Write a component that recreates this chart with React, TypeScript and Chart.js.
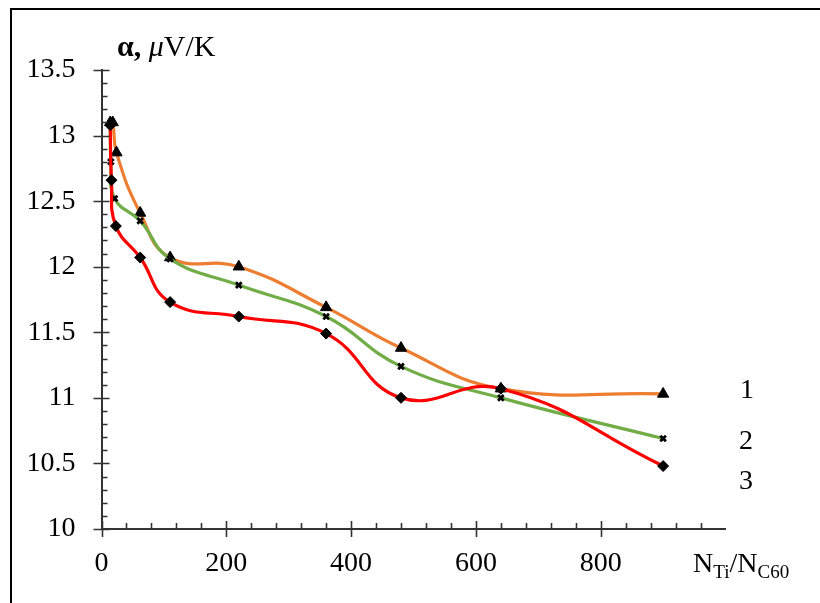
import React, { useEffect, useRef } from "react";
import { Chart, registerables } from "chart.js";

Chart.register(...registerables);

// ---- data ----
const xs1 = [14, 18, 24, 62, 110, 220, 360, 480, 640, 900];
const series1 = [13.1, 13.1, 12.87, 12.41, 12.07, 12.0, 11.69, 11.38, 11.07, 11.03];
const xs2 = [14, 15, 21, 62, 110, 220, 360, 480, 640, 900];
const series2 = [13.08, 12.8, 12.52, 12.35, 12.06, 11.86, 11.62, 11.24, 11.0, 10.69];
const xs3 = [14, 16, 23, 62, 110, 220, 360, 480, 640, 900];
const series3 = [13.08, 12.66, 12.31, 12.07, 11.73, 11.62, 11.49, 11.0, 11.07, 10.48];
const seriesNames = ["1", "2", "3"];
const xHiddenTickLabels = [1000];

const SERIF = "'Liberation Serif', 'Times New Roman', serif";

const toPoints = (xs: number[], ys: number[]) => xs.map((x, i) => ({ x, y: ys[i] }));

const axisTicks = {
  id: "axisTicks",
  afterDatasetsDraw(chart: any) {
    const { ctx, chartArea, scales } = chart;
    const xs = scales.x;
    const ys = scales.y;
    const left = chartArea.left;
    const bottom = chartArea.bottom;
    ctx.save();
    ctx.strokeStyle = "#333";
    ctx.lineWidth = 1.6;
    ctx.beginPath();
    for (let i = 0; i <= 35; i++) {
      const v = 10 + i * 0.1;
      const py = Math.round(ys.getPixelForValue(v)) + 0.5;
      if (i % 5 === 0) {
        ctx.moveTo(left - 8, py);
        ctx.lineTo(left + 8, py);
      } else {
        ctx.moveTo(left, py);
        ctx.lineTo(left + 6, py);
      }
    }
    for (let i = 0; i < 25; i++) {
      const v = i * 40;
      const px = Math.round(xs.getPixelForValue(v)) + 0.5;
      if (i % 5 === 0) {
        ctx.moveTo(px, bottom - 8);
        ctx.lineTo(px, bottom + 8);
      } else {
        ctx.moveTo(px, bottom - 6);
        ctx.lineTo(px, bottom);
      }
    }
    ctx.stroke();
    ctx.restore();
  },
};

export default function App() {
  const ref = useRef<HTMLCanvasElement | null>(null);

  useEffect(() => {
    if (!ref.current) return;
    const chart = new Chart(ref.current, {
      type: "scatter",
      data: {
        datasets: [
          {
            label: seriesNames[2],
            data: toPoints(xs3, series3),
            showLine: true,
            borderColor: "#FF0000",
            borderWidth: 3.2,
            tension: 0.45,
            pointStyle: "rectRot",
            pointRadius: 5.5,
            pointBackgroundColor: "#000",
            pointBorderColor: "#000",
            pointBorderWidth: 1,
            order: 0,
          },
          {
            label: seriesNames[1],
            data: toPoints(xs2, series2),
            showLine: true,
            borderColor: "#70AD47",
            borderWidth: 3.2,
            tension: 0.45,
            pointStyle: "crossRot",
            pointRadius: 4,
            pointBackgroundColor: "#000",
            pointBorderColor: "#000",
            pointBorderWidth: 2.8,
            order: 1,
          },
          {
            label: seriesNames[0],
            data: toPoints(xs1, series1),
            showLine: true,
            borderColor: "#ED7D31",
            borderWidth: 3.2,
            tension: 0.45,
            pointStyle: "triangle",
            pointRadius: 6.5,
            pointBackgroundColor: "#000",
            pointBorderColor: "#000",
            pointBorderWidth: 1,
            order: 2,
          },
        ],
      },
      options: {
        animation: false,
        responsive: false,
        maintainAspectRatio: false,
        layout: { padding: { left: 0, top: 70, right: 94.5, bottom: 0 } },
        plugins: {
          legend: { display: false },
          tooltip: { enabled: false },
        },
        scales: {
          x: {
            type: "linear",
            min: 0,
            max: 1000,
            grid: { display: false, drawTicks: false },
            border: { display: true, color: "#333", width: 2 },
            ticks: {
              stepSize: 200,
              padding: 18,
              color: "#000",
              font: { family: SERIF, size: 28 },
              callback: (v: any) => (xHiddenTickLabels.includes(Number(v)) ? "" : String(v)),
            },
            afterFit: (s: any) => {
              s.height = 74;
            },
          },
          y: {
            type: "linear",
            min: 10,
            max: 13.5,
            grid: { display: false, drawTicks: false },
            border: { display: true, color: "#333", width: 2 },
            ticks: {
              stepSize: 0.5,
              padding: 26,
              color: "#000",
              font: { family: SERIF, size: 28 },
              callback: (v: any) => String(Number(v)),
            },
            afterFit: (s: any) => {
              s.width = 101.5;
            },
          },
        },
      },
      plugins: [axisTicks],
    });
    return () => chart.destroy();
  }, []);

  const txt: React.CSSProperties = {
    position: "absolute",
    fontFamily: SERIF,
    fontSize: 28,
    lineHeight: "28px",
    color: "#000",
    whiteSpace: "nowrap",
  };

  return (
    <div
      style={{
        position: "fixed",
        left: 0,
        top: 0,
        width: 820,
        height: 603,
        background: "#fff",
        overflow: "hidden",
      }}
    >
      <canvas ref={ref} width={820} height={603} style={{ position: "absolute", left: 0, top: 0 }} />
      <div
        style={{
          position: "absolute",
          left: 10,
          top: 8,
          width: 830,
          height: 620,
          borderTop: "2px solid #000",
          borderLeft: "2px solid #000",
          boxSizing: "border-box",
          pointerEvents: "none",
        }}
      />
      <div style={{ ...txt, fontSize: 30, lineHeight: "30px", left: 117, top: 31 }}>
        <b>α,</b> <i>μ</i>V/K
      </div>
      <div style={{ ...txt, left: 693, top: 549 }}>
        N<sub style={{ fontSize: 19, verticalAlign: "-6px" }}>Ti</sub>/N
        <sub style={{ fontSize: 19, verticalAlign: "-6px" }}>C60</sub>
      </div>
      <div style={{ ...txt, left: 740, top: 375 }}>{seriesNames[0]}</div>
      <div style={{ ...txt, left: 739, top: 426 }}>{seriesNames[1]}</div>
      <div style={{ ...txt, left: 739, top: 466 }}>{seriesNames[2]}</div>
    </div>
  );
}
